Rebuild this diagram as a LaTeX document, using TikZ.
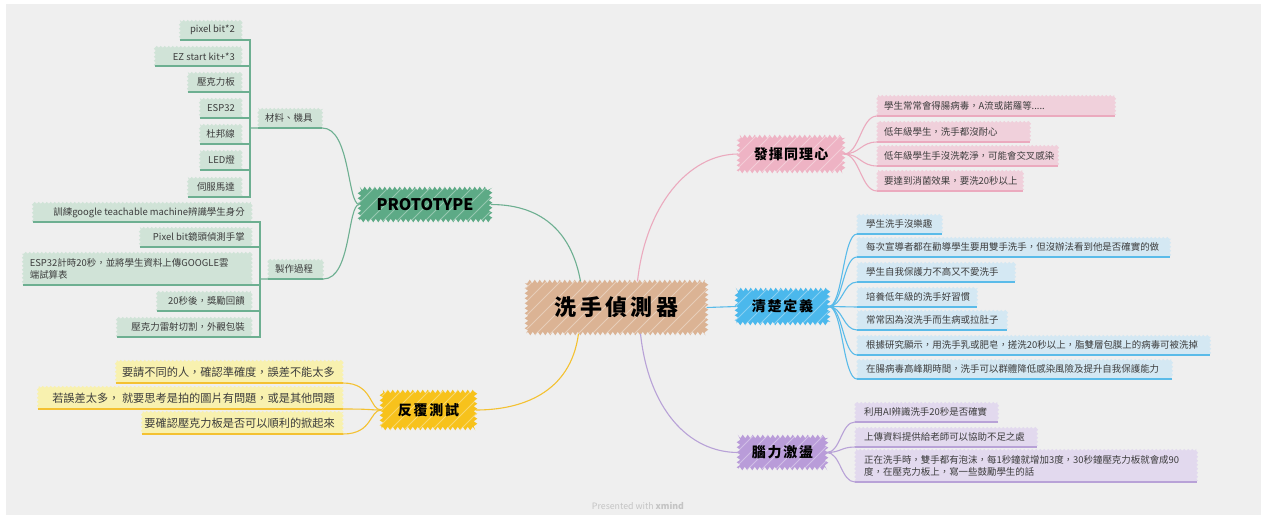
\documentclass[tikz,border=0pt]{standalone}
\usepackage{fontspec}
\setmainfont{Noto Sans CJK TC}
\usetikzlibrary{decorations.pathmorphing}
\definecolor{bg}{HTML}{EFEFEF}
\definecolor{gmain}{HTML}{5DAA86}
\definecolor{gln}{HTML}{6DAF91}
\definecolor{gfill}{HTML}{D0E3D7}
\definecolor{tanc}{HTML}{DBB394}
\definecolor{pmain}{HTML}{EEB3C4}
\definecolor{pln}{HTML}{EBAABE}
\definecolor{pfill}{HTML}{F0D0DB}
\definecolor{bmain}{HTML}{4BB8EC}
\definecolor{bln}{HTML}{5ABBE9}
\definecolor{bfill}{HTML}{D4E8F3}
\definecolor{umain}{HTML}{B99CD9}
\definecolor{uln}{HTML}{B8A2D7}
\definecolor{ufill}{HTML}{E2D9EE}
\definecolor{ymain}{HTML}{F7C21C}
\definecolor{yln}{HTML}{F4C131}
\definecolor{yfill}{HTML}{F8F1AF}
\definecolor{txt}{HTML}{3C3C3C}
\definecolor{wmc}{HTML}{C4C4C4}
\newcommand{\mkR}[2]{\makebox[#1pt][r]{#2}}
\newcommand{\mkL}[2]{\makebox[#1pt][l]{#2}}
\tikzset{
  hatch/.style={path picture={
    \foreach \k in {-60,-46,...,200} {
      \draw[white, opacity=0.35, line width=0.9pt] ([xshift=\k pt]path picture bounding box.south west) -- ++(70pt,70pt);
    }}},
  mainnode/.style={decorate, decoration={zigzag, segment length=5pt, amplitude=1.8pt}, inner sep=0pt, text=black, hatch},
  item/.style={decorate, decoration={zigzag, segment length=4pt, amplitude=0.9pt}, inner xsep=7pt, inner ysep=0pt, minimum height=19pt, text=txt, font=\fontsize{9.45}{12.5}\selectfont},
  gitem/.style={item, fill=gfill},
  pitem/.style={item, fill=pfill, minimum height=20pt},
  bitem/.style={item, fill=bfill, inner xsep=9pt},
  uitem/.style={item, fill=ufill, inner xsep=9pt},
  yitem/.style={item, fill=yfill, inner xsep=8pt, minimum height=22pt, font=\fontsize{11.2}{13}\selectfont},
  conn/.style={line width=1.1pt},
  ul/.style={line width=1.7pt},
}
\begin{document}
\begin{tikzpicture}[x=1pt,y=-1pt]
\useasboundingbox (0,0) rectangle (1265,517);
\fill[bg] (6,4) rectangle (1261,515);

% main nodes
\node[mainnode, fill=tanc, minimum width=180pt, minimum height=52pt, font=\fontsize{22}{24}\selectfont\bfseries\addfontfeature{LetterSpace=15}] (center) at (616.5,307.5) {洗手偵測器};
\node[mainnode, fill=gmain, minimum width=131pt, minimum height=32pt, font=\fontsize{16}{18}\selectfont\bfseries] (proto) at (425,204.5) {PROTOTYPE};
\node[mainnode, fill=pmain, minimum width=105pt, minimum height=35pt, font=\fontsize{14}{16}\selectfont\bfseries\addfontfeature{LetterSpace=8}] (pink) at (791,154) {發揮同理心};
\node[mainnode, fill=bmain, minimum width=92pt, minimum height=34pt, font=\fontsize{14}{16}\selectfont\bfseries\addfontfeature{LetterSpace=12}] (blue) at (782.5,306.5) {清楚定義};
\node[mainnode, fill=umain, minimum width=88pt, minimum height=32pt, font=\fontsize{14}{16}\selectfont\bfseries\addfontfeature{LetterSpace=12}] (purple) at (782.5,452.5) {腦力激盪};
\node[mainnode, fill=ymain, minimum width=94pt, minimum height=37pt, font=\fontsize{14}{16}\selectfont\bfseries\addfontfeature{LetterSpace=12}] (yellow) at (428.5,410) {反覆測試};

% green: materials
\node[gitem, anchor=south east] (m1) at (242,40) {\mkR{48}{pixel bit*2}};
\node[gitem, anchor=south east] (m2) at (242,66) {\mkR{73}{EZ start kit+*3}};
\node[gitem, anchor=south east] (m3) at (242,92) {\mkR{40}{壓克力板}};
\node[gitem, anchor=south east] (m4) at (242,118) {\mkR{28}{ESP32}};
\node[gitem, anchor=south east] (m5) at (242,144) {\mkR{28}{杜邦線}};
\node[gitem, anchor=south east] (m6) at (242,170) {\mkR{28}{LED燈}};
\node[gitem, anchor=south east] (m7) at (242,197) {\mkR{40}{伺服馬達}};
\node[gitem, anchor=south west] (mat) at (258,128) {\mkL{50}{材料、機具}};
\coordinate (matj) at (250,128);

% green: process
\node[gitem, anchor=south east] (p1) at (252,222) {\mkR{205}{訓練google teachable machine辨識學生身分}};
\node[gitem, anchor=south east] (p2) at (252,247) {\mkR{98}{Pixel bit鏡頭偵測手掌}};
\node[gitem, anchor=south east, text width=215pt, align=left, minimum height=32pt] (p3) at (252,285) {ESP32計時20秒，並將學生資料上傳GOOGLE雲\\端試算表};
\node[gitem, anchor=south east] (p4) at (252,311) {\mkR{81}{20秒後，獎勵回饋}};
\node[gitem, anchor=south east] (p5) at (252,337) {\mkR{121}{壓克力雷射切割，外觀包裝}};
\node[gitem, anchor=south west] (proc) at (268,279) {\mkL{41}{製作過程}};
\coordinate (procj) at (260,279);

% pink items
\node[pitem, anchor=south west] (e1) at (877,116) {\mkL{224}{學生常常會得腸病毒，A流或諾羅等.....}};
\node[pitem, anchor=south west] (e2) at (877,142) {\mkL{139}{低年級學生，洗手都沒耐心}};
\node[pitem, anchor=south west] (e3) at (877,166) {\mkL{167}{低年級學生手沒洗乾淨，可能會交叉感染}};
\node[pitem, anchor=south west] (e4) at (877,191) {\mkL{132}{要達到消菌效果，要洗20秒以上}};

% blue items
\node[bitem, anchor=south west] (b1) at (857,234) {\mkL{67}{學生洗手沒樂趣}};
\node[bitem, anchor=south west] (b2) at (857,257) {\mkL{295}{每次宣導者都在勸導學生要用雙手洗手，但沒辦法看到他是否確實的做}};
\node[bitem, anchor=south west] (b3) at (857,282) {\mkL{140}{學生自我保護力不高又不愛洗手}};
\node[bitem, anchor=south west] (b4) at (857,307) {\mkL{102}{培養低年級的洗手好習慣}};
\node[bitem, anchor=south west] (b5) at (857,330) {\mkL{132}{常常因為沒洗手而生病或拉肚子}};
\node[bitem, anchor=south west] (b6) at (857,355) {\mkL{335}{根據研究顯示，用洗手乳或肥皂，搓洗20秒以上，脂雙層包膜上的病毒可被洗掉}};
\node[bitem, anchor=south west] (b7) at (857,379) {\mkL{297}{在腸病毒高峰期時間，洗手可以群體降低感染風險及提升自我保護能力}};

% purple items
\node[uitem, anchor=south west] (u1) at (855,422) {\mkL{125}{利用AI辨識洗手20秒是否確實}};
\node[uitem, anchor=south west] (u2) at (855,447) {\mkL{164}{上傳資料提供給老師可以協助不足之處}};
\node[uitem, anchor=south west, text width=324pt, align=left, minimum height=32pt] (u3) at (855,482) {正在洗手時，雙手都有泡沫，每1秒鐘就增加3度，30秒鐘壓克力板就會成90\\度，在壓克力板上，寫一些鼓勵學生的話};

% yellow items
\node[yitem, anchor=south east] (y1) at (343,383) {\mkR{211}{要請不同的人，確認準確度，誤差不能太多}};
\node[yitem, anchor=south east] (y2) at (343,409) {\mkR{289}{若誤差太多， 就要思考是拍的圖片有問題，或是其他問題}};
\node[yitem, anchor=south east] (y3) at (343,434) {\mkR{185}{要確認壓克力板是否可以順利的掀起來}};

% watermark
\node[font=\fontsize{8.8}{10}\selectfont, text=wmc] (wm) at (638,506) {Presented with \textbf{xmind}};

% connectors: center to branches
\draw[conn, gln] (proto.east) .. controls +(55,0) and +(-8,-45) .. ([xshift=-36pt]center.north);
\draw[conn, pln] ([xshift=21pt]center.north) .. controls +(8,-75) and +(-50,0) .. (pink.west);
\draw[conn, bln] (center.east) -- (blue.west);
\draw[conn, uln] ([xshift=24pt]center.south) .. controls +(8,75) and +(-50,0) .. (purple.west);
\draw[conn, yln] ([xshift=-38pt]center.south) .. controls +(-8,60) and +(45,0) .. (yellow.east);

% green tree
\draw[conn, gln] (matj) -- (mat.south east) .. controls +(28,0) and +(-12,0) .. (proto.west);
\draw[conn, gln] (procj) -- (proc.south east) .. controls +(28,0) and +(-12,0) .. (proto.west);
\foreach \n in {m1,m2,m3,m4,m5,m6,m7} {
  \draw[ul, gln] (\n.south west) -- (\n.south east);
  \draw[conn, gln] (\n.south east) -| (matj);
}
\foreach \n in {p1,p2,p3,p4,p5} {
  \draw[ul, gln] (\n.south west) -- (\n.south east);
  \draw[conn, gln] (\n.south east) -| (procj);
}
\draw[ul, gln] (mat.south west) -- (mat.south east);
\draw[ul, gln] (proc.south west) -- (proc.south east);

% pink tree
\foreach \n in {e1,e2,e3,e4} {
  \draw[ul, pln] (\n.south west) -- (\n.south east);
  \draw[conn, pln] (pink.east) .. controls +(16,0) and +(-16,0) .. (\n.south west);
}
% blue tree
\foreach \n in {b1,b2,b3,b4,b5,b6,b7} {
  \draw[ul, bln] (\n.south west) -- (\n.south east);
  \draw[conn, bln] (blue.east) .. controls +(14,0) and +(-14,0) .. (\n.south west);
}
% purple tree
\foreach \n in {u1,u2,u3} {
  \draw[ul, uln] (\n.south west) -- (\n.south east);
  \draw[conn, uln] (purple.east) .. controls +(14,0) and +(-14,0) .. (\n.south west);
}
% yellow tree
\foreach \n in {y1,y2,y3} {
  \draw[ul, yln] (\n.south west) -- (\n.south east);
  \draw[conn, yln] (\n.south east) .. controls +(30,0) and +(-12,0) .. (yellow.west);
}
\end{tikzpicture}
\end{document}
